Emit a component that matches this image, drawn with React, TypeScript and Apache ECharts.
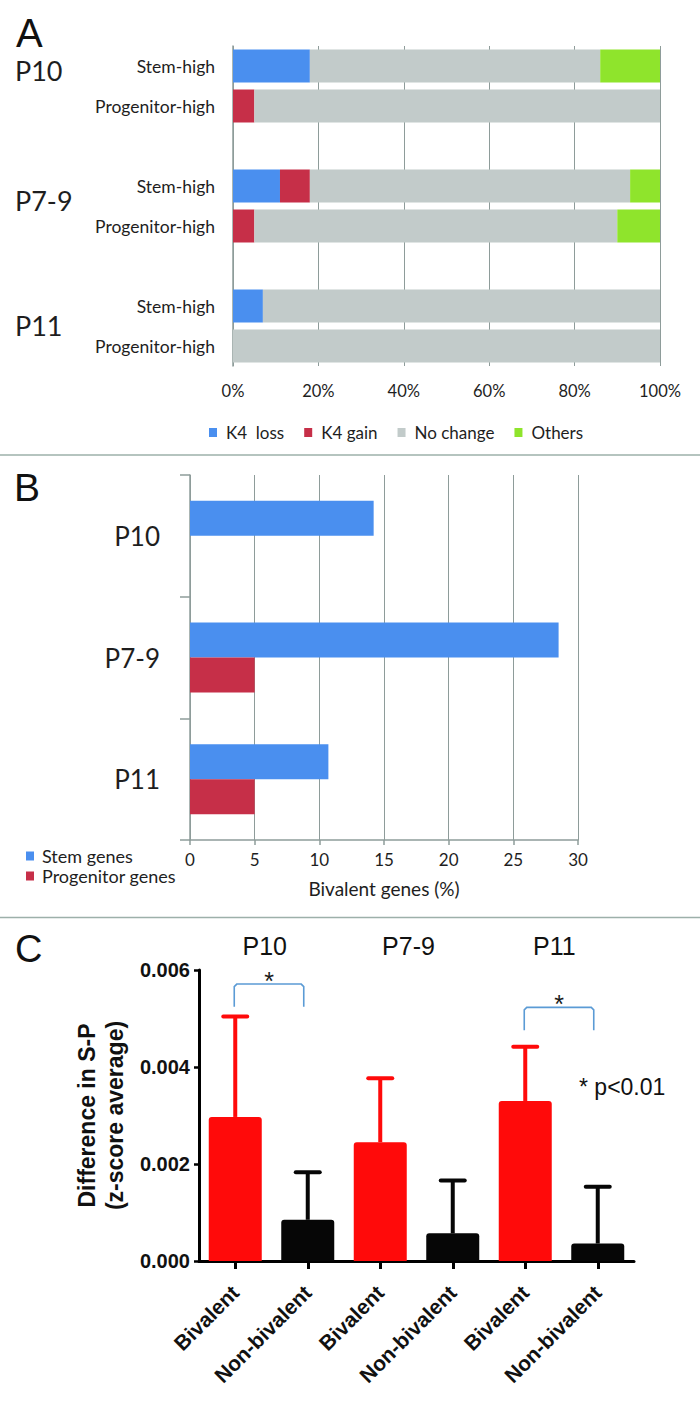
import React, { useEffect, useRef } from "react";
import * as echarts from "echarts";

// ---------- Panel A data ----------
const aRowLabels = ["Stem-high", "Progenitor-high", "", "Stem-high", "Progenitor-high", "", "Stem-high", "Progenitor-high"];
const aGroupLabels = ["P10", "P7-9", "P11"];
const aLegendNames = ["K4  loss", "K4 gain", "No change", "Others"];
const aK4Loss = [18, 0, 0, 11, 0, 0, 7, 0];
const aK4Gain = [0, 5, 0, 7, 5, 0, 0, 0];
const aNoChange = [68, 95, 0, 75, 85, 0, 93, 100];
const aOthers = [14, 0, 0, 7, 10, 0, 0, 0];

// ---------- Panel B data ----------
const bCategories = ["P10", "P7-9", "P11"];
const bLegendNames = ["Stem genes", "Progenitor genes"];
const bStem = [14.2, 28.5, 10.7];
const bProgenitor = [0, 5, 5];

// ---------- Panel C data ----------
const cGroupLabels = ["P10", "P7-9", "P11"];
const cCategories = ["Bivalent", "Non-bivalent", "Bivalent", "Non-bivalent", "Bivalent", "Non-bivalent"];
const cMean = [0.00297, 0.00085, 0.00245, 0.00057, 0.0033, 0.00036];
const cUpper = [0.00504, 0.00183, 0.00377, 0.00166, 0.00442, 0.00153];
// [fromCategory, toCategory, bracketTop, legBottom]
const cBrackets = [
  [0, 1, 0.00571, 0.00524],
  [4, 5, 0.00523, 0.00476],
];
const cNote = "* p<0.01";

export default function App() {
  const ref = useRef<HTMLDivElement>(null);

  useEffect(() => {
    if (!ref.current) return;
    const chart = echarts.init(ref.current, undefined, { renderer: "svg" });

    const lato = "Lato, 'Open Sans', sans-serif";
    const arial = "'Liberation Sans', Arial, sans-serif";
    const txt = "#1e1e1e";
    const gridGray = "#8e9c9a";
    const blue = "#4a8fef";
    const red = "#c62f48";
    const gray = "#c2cbca";
    const green = "#8fe42c";
    const cRed = "#ff0a0a";
    const cBlack = "#060606";
    const bracketBlue = "#5b9bd5";

    const aBar = (name: string, data: number[], color: string) => ({
      type: "bar",
      name,
      xAxisIndex: 0,
      yAxisIndex: 0,
      stack: "a",
      barWidth: 33,
      data,
      itemStyle: { color },
    });

    const option: any = {
      animation: false,
      backgroundColor: "#ffffff",
      grid: [
        { left: 233, top: 46, width: 427, height: 320 },
        { left: 190, top: 475, width: 388, height: 365 },
        { left: 199, top: 970, width: 435, height: 291 },
      ],
      legend: [
        {
          data: aLegendNames,
          left: 209,
          top: 424,
          padding: 0,
          icon: "rect",
          itemWidth: 8,
          itemHeight: 9,
          itemGap: 20,
          textStyle: { fontFamily: lato, fontSize: 17, color: txt, padding: [0, 0, 0, 4] },
        },
        {
          data: bLegendNames,
          orient: "vertical",
          left: 26,
          top: 847,
          padding: 0,
          icon: "rect",
          itemWidth: 8,
          itemHeight: 9,
          itemGap: 2,
          textStyle: { fontFamily: lato, fontSize: 18, color: txt, padding: [0, 0, 0, 3] },
        },
      ],
      xAxis: [
        {
          gridIndex: 0,
          type: "value",
          min: 0,
          max: 100,
          interval: 20,
          axisLine: { show: false },
          axisTick: { show: false },
          axisLabel: { formatter: "{value}%", fontFamily: lato, fontSize: 16.5, color: txt, margin: 16 },
          splitLine: { show: true, lineStyle: { color: gridGray, width: 1 } },
        },
        {
          gridIndex: 1,
          type: "value",
          min: 0,
          max: 30,
          interval: 5,
          axisLine: { show: true, lineStyle: { color: gridGray, width: 1.5 } },
          axisTick: { show: true, length: 5, lineStyle: { color: gridGray, width: 1.5 } },
          axisLabel: { fontFamily: lato, fontSize: 17, color: txt, margin: 11 },
          splitLine: { show: true, lineStyle: { color: gridGray, width: 1 } },
          name: "Bivalent genes (%)",
          nameLocation: "middle",
          nameGap: 39,
          nameTextStyle: { fontFamily: lato, fontSize: 19, color: txt },
        },
        {
          gridIndex: 2,
          type: "category",
          data: cCategories.map((_, i) => "c" + i),
          axisLine: { show: true, lineStyle: { color: "#000", width: 3 } },
          axisTick: { show: true, alignWithLabel: true, length: 8, lineStyle: { color: "#000", width: 3 } },
          axisLabel: {
            formatter: (_v: string, i: number) => cCategories[i],
            rotate: 45,
            margin: 28,
            fontFamily: arial,
            fontWeight: "bold",
            fontSize: 21,
            color: "#111",
          },
          splitLine: { show: false },
        },
      ],
      yAxis: [
        {
          gridIndex: 0,
          type: "category",
          inverse: true,
          data: aRowLabels.map((_, i) => "r" + i),
          axisLine: { show: true, lineStyle: { color: gridGray, width: 1.5 } },
          axisTick: { show: false },
          axisLabel: {
            formatter: (_v: string, i: number) => aRowLabels[i],
            fontFamily: lato,
            fontSize: 17.5,
            color: txt,
            margin: 18,
          },
        },
        {
          gridIndex: 1,
          type: "category",
          inverse: true,
          data: bCategories,
          axisLine: { show: true, lineStyle: { color: gridGray, width: 1.5 } },
          axisTick: { show: true, length: 10, lineStyle: { color: gridGray, width: 1.5 } },
          axisLabel: { fontFamily: lato, fontSize: 26, color: txt, margin: 30 },
        },
        {
          gridIndex: 2,
          type: "value",
          min: 0,
          max: 0.006,
          interval: 0.002,
          axisLine: { show: true, lineStyle: { color: "#000", width: 3 } },
          axisTick: { show: true, length: 5, lineStyle: { color: "#000", width: 2.5 } },
          axisLabel: {
            formatter: (v: number) => v.toFixed(3),
            fontFamily: arial,
            fontWeight: "bold",
            fontSize: 20,
            color: "#111",
            margin: 9,
          },
          splitLine: { show: false },
          name: "Difference in S-P\n(z-score average)",
          nameLocation: "middle",
          nameGap: 67,
          nameTextStyle: {
            fontFamily: arial,
            fontWeight: "bold",
            fontSize: 23,
            lineHeight: 28,
            color: "#111",
          },
        },
      ],
      series: [
        aBar(aLegendNames[0], aK4Loss, blue),
        aBar(aLegendNames[1], aK4Gain, red),
        aBar(aLegendNames[2], aNoChange, gray),
        aBar(aLegendNames[3], aOthers, green),
        {
          type: "bar",
          name: bLegendNames[0],
          xAxisIndex: 1,
          yAxisIndex: 1,
          barWidth: 35,
          barGap: "0%",
          data: bStem,
          itemStyle: { color: blue },
        },
        {
          type: "bar",
          name: bLegendNames[1],
          xAxisIndex: 1,
          yAxisIndex: 1,
          barWidth: 35,
          barGap: "0%",
          data: bProgenitor,
          itemStyle: { color: red },
        },
        {
          type: "bar",
          name: "cMean",
          xAxisIndex: 2,
          yAxisIndex: 2,
          barWidth: 53,
          data: cMean,
          itemStyle: {
            color: (p: any) => (p.dataIndex % 2 === 0 ? cRed : cBlack),
            borderRadius: [3, 3, 0, 0],
          },
        },
        {
          type: "custom",
          name: "cError",
          xAxisIndex: 2,
          yAxisIndex: 2,
          encode: { x: 0, y: [1, 2] },
          data: cMean.map((m, i) => [i, m, cUpper[i]]),
          z: 3,
          renderItem: (_params: any, api: any) => {
            const i = api.value(0);
            const p0 = api.coord([i, api.value(1)]);
            const p1 = api.coord([i, api.value(2)]);
            const col = i % 2 === 0 ? cRed : cBlack;
            return {
              type: "group",
              children: [
                {
                  type: "line",
                  shape: { x1: p0[0], y1: p0[1], x2: p1[0], y2: p1[1] },
                  style: { stroke: col, lineWidth: 4 },
                },
                {
                  type: "line",
                  shape: { x1: p1[0] - 12, y1: p1[1], x2: p1[0] + 12, y2: p1[1] },
                  style: { stroke: col, lineWidth: 4, lineCap: "round" },
                },
              ],
            };
          },
        },
        {
          type: "custom",
          name: "cBracket",
          xAxisIndex: 2,
          yAxisIndex: 2,
          encode: { x: [0, 1], y: [2, 3] },
          data: cBrackets,
          z: 3,
          renderItem: (_params: any, api: any) => {
            const a = api.coord([api.value(0), api.value(2)]);
            const b = api.coord([api.value(1), api.value(2)]);
            const leg = api.coord([api.value(0), api.value(3)]);
            const xl = a[0] - 1;
            const xr = b[0] - 4;
            const yt = a[1];
            const yl = leg[1];
            return {
              type: "group",
              children: [
                {
                  type: "polyline",
                  shape: {
                    points: [
                      [xl, yl],
                      [xl, yt + 2.5],
                      [xl + 2.5, yt],
                      [xr - 2.5, yt],
                      [xr, yt + 2.5],
                      [xr, yl],
                    ],
                  },
                  style: { stroke: bracketBlue, lineWidth: 1.6, fill: null },
                },
                {
                  type: "text",
                  x: (xl + xr) / 2,
                  y: yt + 9,
                  style: {
                    text: "*",
                    align: "center",
                    verticalAlign: "bottom",
                    fontSize: 25,
                    fontFamily: arial,
                    fill: "#1a1a1a",
                  },
                },
              ],
            };
          },
        },
      ],
      graphic: [
        { type: "line", shape: { x1: 0, y1: 455, x2: 700, y2: 455 }, style: { stroke: "#9db0aa", lineWidth: 1.5 } },
        { type: "line", shape: { x1: 0, y1: 917.5, x2: 700, y2: 917.5 }, style: { stroke: "#9db0aa", lineWidth: 1.5 } },
        { type: "text", x: 16, y: 32.5, style: { text: "A", fontSize: 40, fontFamily: arial, fill: "#111", verticalAlign: "middle" } },
        { type: "text", x: 14, y: 487.5, style: { text: "B", fontSize: 39, fontFamily: arial, fill: "#111", verticalAlign: "middle" } },
        { type: "text", x: 15, y: 949, style: { text: "C", fontSize: 38, fontFamily: arial, fill: "#111", verticalAlign: "middle" } },
        { type: "text", x: 15, y: 70, style: { text: aGroupLabels[0], fontSize: 27, fontFamily: lato, fill: txt, verticalAlign: "middle" } },
        { type: "text", x: 15, y: 200, style: { text: aGroupLabels[1], fontSize: 27, fontFamily: lato, fill: txt, verticalAlign: "middle" } },
        { type: "text", x: 15, y: 325, style: { text: aGroupLabels[2], fontSize: 27, fontFamily: lato, fill: txt, verticalAlign: "middle" } },
        { type: "text", x: 264.7, y: 945.5, style: { text: cGroupLabels[0], fontSize: 25, fontFamily: arial, fill: "#111", align: "center", verticalAlign: "middle" } },
        { type: "text", x: 408.5, y: 945.5, style: { text: cGroupLabels[1], fontSize: 25, fontFamily: arial, fill: "#111", align: "center", verticalAlign: "middle" } },
        { type: "text", x: 554.4, y: 945.5, style: { text: cGroupLabels[2], fontSize: 25, fontFamily: arial, fill: "#111", align: "center", verticalAlign: "middle" } },
        { type: "text", x: 579, y: 1087, style: { text: cNote, fontSize: 23, fontFamily: arial, fill: "#111", verticalAlign: "middle" } },
      ],
    };

    chart.setOption(option);
    return () => chart.dispose();
  }, []);

  return (
    <div
      ref={ref}
      style={{ position: "absolute", left: 0, top: 0, width: 700, height: 1403, background: "#fff" }}
    />
  );
}
